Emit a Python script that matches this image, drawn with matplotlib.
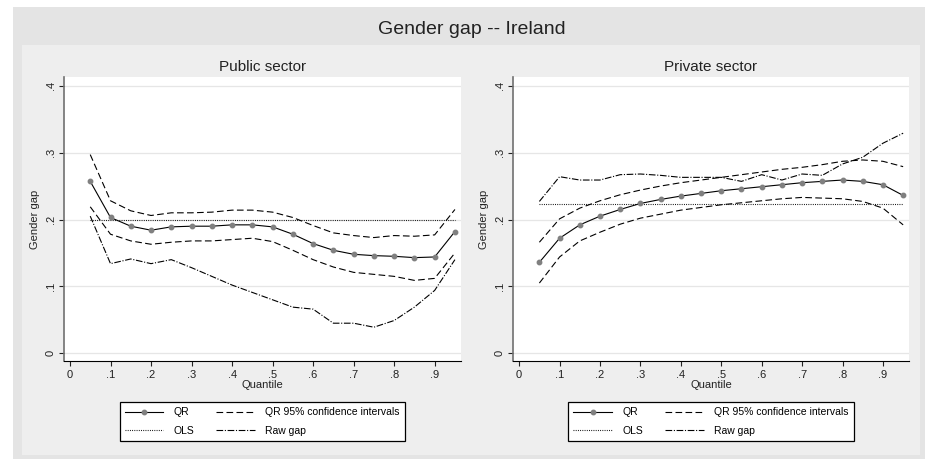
#
# Gender gap by quantile -- Ireland
# Public and private sector panels
#

import matplotlib
matplotlib.use('Agg')
import matplotlib.pyplot as plt
from matplotlib.patches import Rectangle

plt.rcParams['font.family'] = ['Liberation Sans', 'DejaVu Sans']

# data
quantiles = [0.05, 0.10, 0.15, 0.20, 0.25, 0.30, 0.35, 0.40, 0.45, 0.50,
             0.55, 0.60, 0.65, 0.70, 0.75, 0.80, 0.85, 0.90, 0.95]

pubQR = [0.257, 0.203, 0.190, 0.184, 0.189, 0.190, 0.190, 0.192, 0.192, 0.189,
         0.178, 0.164, 0.154, 0.148, 0.146, 0.145, 0.143, 0.144, 0.182]
pubHi = [0.297, 0.228, 0.213, 0.206, 0.210, 0.210, 0.211, 0.214, 0.214, 0.211,
         0.203, 0.191, 0.180, 0.176, 0.173, 0.176, 0.175, 0.177, 0.215]
pubLo = [0.219, 0.178, 0.168, 0.163, 0.166, 0.168, 0.168, 0.170, 0.172, 0.167,
         0.154, 0.140, 0.129, 0.121, 0.118, 0.115, 0.109, 0.112, 0.150]
pubRaw = [0.205, 0.134, 0.141, 0.134, 0.140, 0.128, 0.115, 0.102, 0.091, 0.080,
          0.069, 0.066, 0.045, 0.045, 0.039, 0.049, 0.069, 0.094, 0.140]
pubOLS = 0.199

privQR = [0.136, 0.172, 0.192, 0.205, 0.215, 0.224, 0.230, 0.235, 0.239, 0.243,
          0.246, 0.249, 0.252, 0.255, 0.257, 0.259, 0.257, 0.252, 0.236]
privHi = [0.166, 0.201, 0.217, 0.228, 0.237, 0.244, 0.250, 0.255, 0.259, 0.263,
          0.267, 0.271, 0.275, 0.278, 0.282, 0.287, 0.289, 0.287, 0.279]
privLo = [0.105, 0.144, 0.168, 0.181, 0.193, 0.202, 0.208, 0.214, 0.218, 0.222,
          0.225, 0.228, 0.231, 0.233, 0.232, 0.231, 0.227, 0.217, 0.192]
privRaw = [0.227, 0.264, 0.259, 0.259, 0.267, 0.268, 0.266, 0.263, 0.263, 0.263,
           0.257, 0.267, 0.259, 0.268, 0.266, 0.283, 0.293, 0.314, 0.329]
privOLS = 0.223

yTicks = [0, 0.1, 0.2, 0.3, 0.4]
yTickLabels = ['0', '.1', '.2', '.3', '.4']
xTicks = [0, 0.1, 0.2, 0.3, 0.4, 0.5, 0.6, 0.7, 0.8, 0.9]
xTickLabels = ['0', '.1', '.2', '.3', '.4', '.5', '.6', '.7', '.8', '.9']

# layout (figure fractions, 925x461 px)
W, H = 925.0, 461.0
posLeft = [63.5/W, 1-361/H, 397.5/W, 284/H]
posRight = [512.7/W, 1-361/H, 396.5/W, 284/H]
xLim = [-0.016, 0.965]
yLim = [-0.0115, 0.413]

fig = plt.figure(figsize=[9.25, 4.61], dpi=100, facecolor='white')

# stata style background panels
fig.patches.append(Rectangle((13/W, 1-459/H), (925-13)/W, (459-7)/H,
                             transform=fig.transFigure, facecolor='#e4e4e4',
                             edgecolor='none', zorder=-2))
fig.patches.append(Rectangle((22/W, 1-455/H), (920-22)/W, (455-45)/H,
                             transform=fig.transFigure, facecolor='#eeeeee',
                             edgecolor='none', zorder=-1))

fig.text(472/W, 1-30/H, 'Gender gap -- Ireland', ha='center', va='center',
         fontsize=14, color='#222222')


def draw_panel(pos, title, qr, hi, lo, raw, ols):
    ax = fig.add_axes(pos)
    ax.set_facecolor('white')
    ax.plot(quantiles, qr, '-', color='black', linewidth=0.8, marker='o',
            markersize=3.2, markerfacecolor='#808080', markeredgecolor='#808080',
            label='QR', zorder=4)
    ax.plot(quantiles, [ols]*len(quantiles), color='black', linewidth=0.8,
            dashes=(0.8, 1.2), label='OLS', zorder=3)
    ax.plot(quantiles, hi, color='black', linewidth=0.8, dashes=(6, 3),
            label='QR 95% confidence intervals', zorder=3)
    ax.plot(quantiles, raw, color='black', linewidth=0.8, dashes=(6, 1.5, 1, 1.5),
            label='Raw gap', zorder=3)
    ax.plot(quantiles, lo, color='black', linewidth=0.8, dashes=(6, 3), zorder=3)

    ax.set_xlim(xLim)
    ax.set_ylim(yLim)
    ax.set_yticks(yTicks)
    ax.set_yticklabels(yTickLabels, rotation=90, va='center')
    ax.set_xticks(xTicks)
    ax.set_xticklabels(xTickLabels)
    ax.grid(axis='y', color='#e6e6e6', linewidth=0.9)
    ax.set_axisbelow(True)
    for s in ['top', 'right']:
        ax.spines[s].set_visible(False)
    ax.spines['left'].set_color('#707070')
    ax.spines['left'].set_linewidth(1.2)
    ax.spines['bottom'].set_color('black')
    ax.spines['bottom'].set_linewidth(0.8)
    ax.tick_params(axis='both', length=3.6, width=0.8, labelsize=8,
                   colors='#222222')
    ax.tick_params(axis='y', pad=2)
    ax.tick_params(axis='x', pad=3)
    ax.set_title(title, fontsize=11, color='#222222', pad=4)
    ax.set_ylabel('Gender gap', fontsize=8, color='#222222', labelpad=4)
    ax.set_xlabel('Quantile', fontsize=8, color='#222222', labelpad=0)

    # legend centred under its own panel
    cx = pos[0] + pos[2]/2
    leg = ax.legend(loc='upper center', ncol=2, bbox_to_anchor=(cx, 1-397/H),
                    bbox_transform=fig.transFigure, fontsize=7.5, frameon=True,
                    fancybox=False, framealpha=1, edgecolor='black',
                    handlelength=3.7, handletextpad=1.0, columnspacing=2.1,
                    borderpad=0.5, labelspacing=0.8)
    leg.get_frame().set_linewidth(0.9)
    return ax


draw_panel(posLeft, 'Public sector', pubQR, pubHi, pubLo, pubRaw, pubOLS)
draw_panel(posRight, 'Private sector', privQR, privHi, privLo, privRaw, privOLS)

plt.savefig('out.png', dpi=100, facecolor='white')
